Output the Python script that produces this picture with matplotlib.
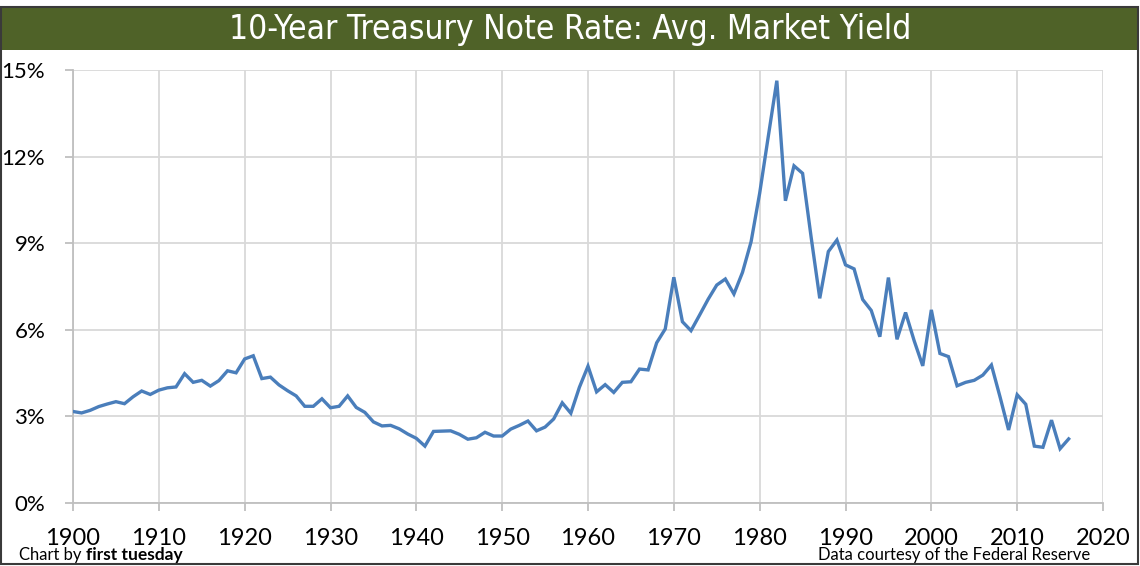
import matplotlib
matplotlib.use("Agg")
import matplotlib.pyplot as plt
from matplotlib.patches import Rectangle
from matplotlib.ticker import FuncFormatter
from matplotlib import font_manager

years = list(range(1900, 2017))
yields = [
    3.17, 3.12, 3.21, 3.34, 3.43, 3.51, 3.44, 3.68, 3.88, 3.76,   # 1900-1909
    3.91, 3.99, 4.02, 4.48, 4.18, 4.25, 4.05, 4.24, 4.58, 4.51,   # 1910-1919
    4.99, 5.10, 4.31, 4.36, 4.09, 3.89, 3.71, 3.35, 3.35, 3.61,   # 1920-1929
    3.30, 3.35, 3.71, 3.31, 3.14, 2.81, 2.67, 2.69, 2.57, 2.39,   # 1930-1939
    2.24, 1.97, 2.48, 2.49, 2.50, 2.38, 2.21, 2.26, 2.45, 2.32,   # 1940-1949
    2.32, 2.56, 2.69, 2.84, 2.50, 2.63, 2.91, 3.47, 3.11, 4.01,   # 1950-1959
    4.74, 3.85, 4.10, 3.83, 4.18, 4.20, 4.64, 4.61, 5.55, 6.03,   # 1960-1969
    7.82, 6.28, 5.97, 6.51, 7.06, 7.55, 7.76, 7.24, 7.99, 9.05,   # 1970-1979
    10.73, 12.69, 14.63, 10.47, 11.68, 11.42, 9.20, 7.09, 8.71, 9.11,  # 1980-1989
    8.25, 8.11, 7.05, 6.67, 5.76, 7.81, 5.67, 6.60, 5.62, 4.75,   # 1990-1999
    6.69, 5.18, 5.07, 4.06, 4.18, 4.25, 4.43, 4.78, 3.68, 2.53,   # 2000-2009
    3.75, 3.42, 1.97, 1.93, 2.87, 1.88, 2.22,                     # 2010-2016
]

title = "10-Year Treasury Note Rate: Avg. Market Yield"
x_ticks = [1900, 1910, 1920, 1930, 1940, 1950, 1960, 1970, 1980, 1990, 2000, 2010, 2020]
y_ticks = [0, 3, 6, 9, 12, 15]

W, H = 1140, 566
fig = plt.figure(figsize=(W / 100, H / 100), dpi=100)
fig.patch.set_facecolor("white")

def fx(px):
    return px / W

def fy(py):
    return 1 - py / H

# pick a condensed family for the title if one is installed
names = {f.name for f in font_manager.fontManager.ttflist}
cond = [f for f in font_manager.fontManager.ttflist
        if f.name == "DejaVu Sans" and "ondensed" in f.fname and "Bold" not in f.fname
        and "Oblique" not in f.fname]
if "Liberation Sans Narrow" in names:
    title_kw = dict(family="Liberation Sans Narrow", fontsize=25)
elif cond:
    title_kw = dict(fontproperties=font_manager.FontProperties(fname=cond[0].fname, size=24))
else:
    title_kw = dict(family="DejaVu Sans", fontsize=21.5)

# outer frame
fig.patches.append(Rectangle((fx(1), fy(564)), fx(1138) - fx(1), fy(7) - fy(564),
                             transform=fig.transFigure, facecolor="none",
                             edgecolor="#3a3a3a", linewidth=1.5, zorder=5))
# title bar
fig.patches.append(Rectangle((fx(1), fy(50)), fx(1138) - fx(1), fy(8) - fy(50),
                             transform=fig.transFigure, facecolor="#4F6228",
                             edgecolor="none", zorder=1))
fig.text(fx(570), fy(30), title, color="white", ha="center", va="center", **title_kw)

ax = fig.add_axes([fx(73), fy(503), fx(1103) - fx(73), fy(70) - fy(503)])
ax.plot(years, yields, color="#4A7EBB", linewidth=2.4, solid_joinstyle="miter", zorder=3)
ax.set_xlim(1900, 2020)
ax.set_ylim(0, 15)
ax.set_xticks(x_ticks)
ax.set_yticks(y_ticks)
ax.yaxis.set_major_formatter(FuncFormatter(lambda v, p: f"{int(v)}%"))
ax.grid(True, color="#D9D9D9", linewidth=1.3)
ax.set_axisbelow(True)
for s in ["top", "right"]:
    ax.spines[s].set_visible(False)
for s in ["left", "bottom"]:
    ax.spines[s].set_color("#BFBFBF")
    ax.spines[s].set_linewidth(1.3)
ax.tick_params(axis="x", length=6, width=1.3, color="#BFBFBF", pad=12,
               labelsize=17, labelcolor="black")
ax.tick_params(axis="y", length=6, width=1.3, color="#BFBFBF", pad=14,
               labelsize=16, labelcolor="black")
for lab in ax.get_xticklabels() + ax.get_yticklabels():
    lab.set_family("Lato")

fig.text(fx(19), fy(555), "Chart by ", fontsize=12, family="Lato", ha="left", va="center")
fig.text(fx(86), fy(555), "first tuesday", fontsize=12.5, family="Lato", weight="bold",
         ha="left", va="center")
fig.text(fx(1090), fy(555), "Data courtesy of the Federal Reserve", fontsize=12,
         family="Lato", ha="right", va="center")

fig.savefig("out.png", dpi=100, facecolor="white")
